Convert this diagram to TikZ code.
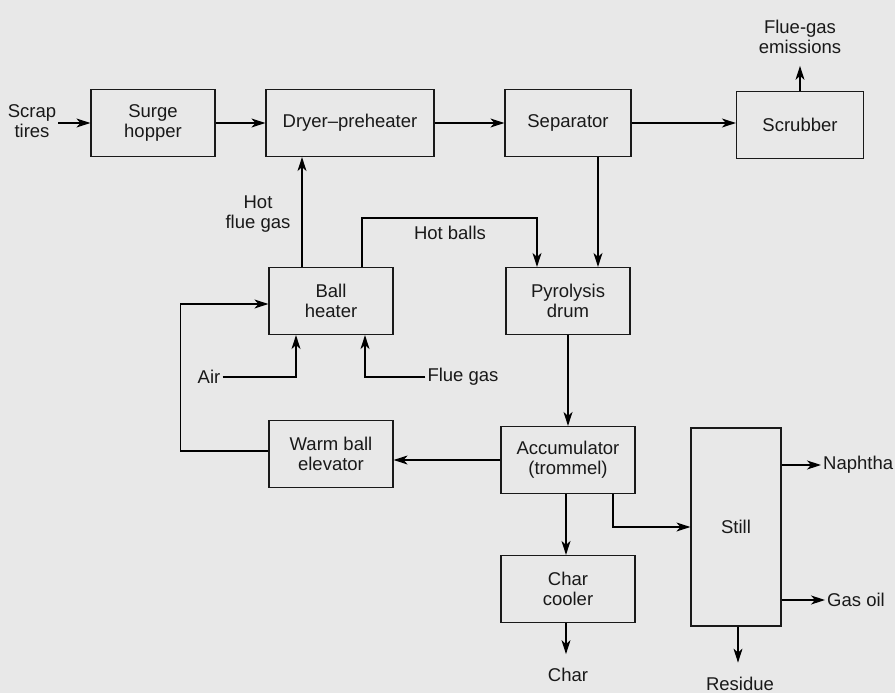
\documentclass[tikz,border=0pt]{standalone}
\usepackage{fontspec}
\setmainfont{Liberation Sans}
\usetikzlibrary{arrows, arrows.meta, positioning}
\tikzstyle{unit} = [rectangle, minimum width=124pt, minimum height=67pt, text centered, align=center, draw=black!90, line width=1.2pt]
\tikzstyle{stream} = [align=center, inner sep=2pt]
\tikzstyle{arrow} = [line width=1.2pt, -{Stealth[length=14pt, width=9pt, inset=4pt]}]
\tikzstyle{line} = [line width=1.2pt]

\begin{document}
\begin{tikzpicture}[x=1pt, y=-1pt, node distance=200pt, font=\fontsize{18.5}{20}\selectfont, text=black!90]
    \fill[black!9] (0,0) rectangle (895,693);
    \useasboundingbox (0,0) rectangle (895,693);

    \node (hopper) [unit] at (153,123) {Surge\\hopper};
    \node (dryer) [unit, minimum width=168pt, right of=hopper, xshift=-3pt] {Dryer--preheater};
    \node (separator) [unit, minimum width=126pt, right of=dryer, xshift=18pt] {Separator};
    \node (scrubber) [unit, minimum width=127pt, right of=separator, xshift=32pt, yshift=-2pt] {Scrubber};
    \node (pyrolysis) [unit, below of=separator, yshift=22pt] {Pyrolysis\\drum};
    \node (accum) [unit, minimum width=134pt, below of=pyrolysis, yshift=41pt] {Accumulator\\(trommel)};
    \node (charcool) [unit, minimum width=134pt, below of=accum, yshift=71pt] {Char\\cooler};
    \node (still) [unit, minimum width=90pt, minimum height=198pt, right of=accum, xshift=-32pt, yshift=-67pt] {Still};
    \node (ballheat) [unit, below of=dryer, xshift=-19pt, yshift=22pt] {Ball\\heater};
    \node (warm) [unit, below of=ballheat, yshift=47pt] {Warm ball\\elevator};

    % streams in and out
    \node (scrap) [stream] at (32,121) {Scrap\\tires};
    \node (emissions) [stream, above of=scrubber, yshift=-112pt] {Flue-gas\\emissions};
    \node (hotflue) [stream] at (258,214) {Hot\\flue gas};
    \node (hotballs) [stream] at (450,233) {Hot balls};
    \node (air) [stream] at (209,377) {Air};
    \node (fluegas) [stream] at (463,377) {Flue gas};
    \node (naphtha) [stream, anchor=west] at (821,465) {Naphtha};
    \node (gasoil) [stream, anchor=west] at (825,600) {Gas oil};
    \node (residue) [stream] at (740,684) {Residue};
    \node (char) [stream] at (568,675) {Char};

    \draw [arrow] (scrap.east |- hopper.west) -- (hopper.west);
    \draw [arrow] (hopper) -- (dryer);
    \draw [arrow] (dryer) -- (separator);
    \draw [arrow] (separator.east) -- (separator.east -| scrubber.west);
    \draw [arrow] (scrubber.north) -- ++(0,-25);
    \draw [arrow] ([xshift=30pt]separator.south) -- ([xshift=30pt]separator.south |- pyrolysis.north);
    \draw [arrow] ([xshift=-29pt]ballheat.north) -- ([xshift=-29pt]ballheat.north |- dryer.south);
    \draw [arrow] ([xshift=31pt]ballheat.north) -- ++(0,-49) -| ([xshift=-31pt]pyrolysis.north);
    \draw [arrow] (air.east) -| ([xshift=-35pt]ballheat.south);
    \draw [arrow] (fluegas.west) -| ([xshift=34pt]ballheat.south);
    \draw [arrow] (pyrolysis.south) -- (pyrolysis.south |- accum.north);
    \draw [arrow] (accum.west) -- (accum.west -| warm.east);
    \draw [arrow] ([yshift=3pt]warm.west) -- ++(-88,0) |- ([yshift=-3pt]ballheat.west);
    \draw [arrow] ([xshift=-2pt]accum.south) -- ([xshift=-2pt]accum.south |- charcool.north);
    \draw [arrow] ([xshift=45pt]accum.south) |- (still.west);
    \draw [arrow] (naphtha.west -| still.east) -- (naphtha.west);
    \draw [arrow] (gasoil.west -| still.east) -- (gasoil.west);
    \draw [arrow] ([xshift=2pt]still.south) -- ++(0,36);
    \draw [arrow] ([xshift=-2pt]charcool.south) -- ++(0,31);
\end{tikzpicture}
\end{document}
